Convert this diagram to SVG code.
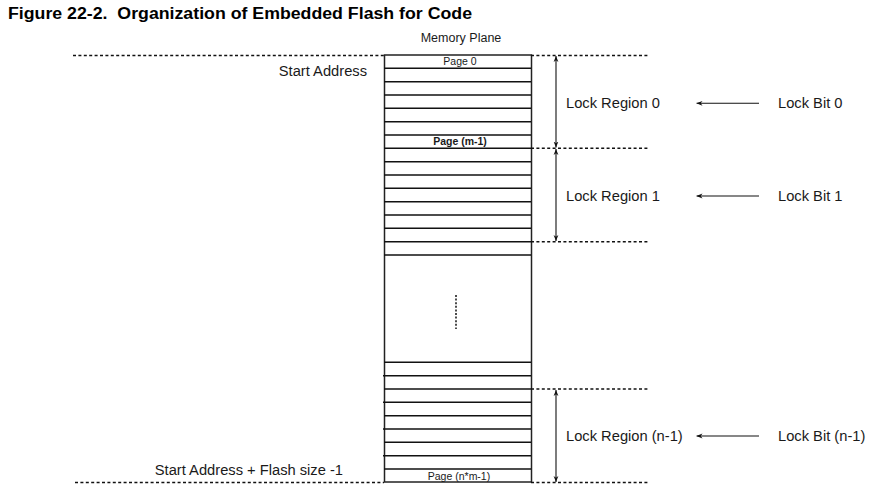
<svg xmlns="http://www.w3.org/2000/svg" width="884" height="500" viewBox="0 0 884 500">
<style>
text{font-family:"Liberation Sans",Arial,sans-serif;fill:#1a1a1a}
.t{font-size:14.7px}
.p{font-size:10.5px;text-anchor:middle}
.dot{stroke:#111;stroke-width:1.5;stroke-dasharray:3 2.4;fill:none}
.row{stroke:#111;stroke-width:1.4}
.ln{stroke:#111;stroke-width:1.1;fill:none}
</style>
<defs>
<marker id="ah" viewBox="0 0 10 10" refX="10" refY="5" markerWidth="6" markerHeight="6" orient="auto-start-reverse" markerUnits="userSpaceOnUse">
<path d="M0,1 L10,5 L0,9 L3,5 Z" fill="#111"/>
</marker>
</defs>
<rect width="884" height="500" fill="#fff"/>
<text x="8" y="19" style="font-size:17.4px;font-weight:bold;fill:#000" xml:space="preserve" textLength="464" lengthAdjust="spacingAndGlyphs">Figure 22-2.  Organization of Embedded Flash for Code</text>

<g id="memory-plane">
<text x="461" y="42" style="font-size:12.5px;text-anchor:middle">Memory Plane</text>
<rect x="384.5" y="55" width="147" height="427" fill="#fff" stroke="#222" stroke-width="1.5"/>
<g class="row">
<line x1="384" y1="68.3" x2="531" y2="68.3"/>
<line x1="384" y1="81.7" x2="531" y2="81.7"/>
<line x1="384" y1="95" x2="531" y2="95"/>
<line x1="384" y1="108.3" x2="531" y2="108.3"/>
<line x1="384" y1="121.7" x2="531" y2="121.7"/>
<line x1="384" y1="135" x2="531" y2="135"/>
<line x1="384" y1="148.3" x2="531" y2="148.3"/>
<line x1="384" y1="161.7" x2="531" y2="161.7"/>
<line x1="384" y1="175" x2="531" y2="175"/>
<line x1="384" y1="188.3" x2="531" y2="188.3"/>
<line x1="384" y1="201.7" x2="531" y2="201.7"/>
<line x1="384" y1="215" x2="531" y2="215"/>
<line x1="384" y1="228.3" x2="531" y2="228.3"/>
<line x1="384" y1="241.7" x2="531" y2="241.7"/>
<line x1="384" y1="255" x2="531" y2="255"/>
<line x1="384" y1="362.3" x2="531" y2="362.3"/>
<line x1="383" y1="375.7" x2="531" y2="375.7"/>
<line x1="384" y1="389" x2="531" y2="389"/>
<line x1="383" y1="402.3" x2="531" y2="402.3"/>
<line x1="384" y1="415.7" x2="531" y2="415.7"/>
<line x1="383" y1="429" x2="531" y2="429"/>
<line x1="384" y1="442.3" x2="531" y2="442.3"/>
<line x1="383" y1="455.7" x2="531" y2="455.7"/>
<line x1="384" y1="469" x2="531" y2="469"/>
</g>
<line x1="456" y1="295" x2="456" y2="329" stroke="#111" stroke-width="1.5" stroke-dasharray="2 1.6"/>
<text x="460" y="65" class="p">Page 0</text>
<text x="460" y="145" class="p" style="font-weight:bold">Page (m-1)</text>
<text x="459" y="480" class="p">Page (n*m-1)</text>
</g>

<g id="connectors">
<line class="dot" x1="73" y1="55.5" x2="384" y2="55.5"/>
<line class="dot" x1="531" y1="55.5" x2="648" y2="55.5"/>
<line class="dot" x1="531" y1="148.3" x2="648" y2="148.3"/>
<line class="dot" x1="531" y1="241.7" x2="648" y2="241.7"/>
<line class="dot" x1="531" y1="389" x2="648" y2="389"/>
<line class="dot" x1="75" y1="482.5" x2="384" y2="482.5"/>
<line class="dot" x1="531" y1="482.5" x2="648" y2="482.5"/>
<line class="ln" x1="556" y1="56" x2="556" y2="147.5" marker-start="url(#ah)" marker-end="url(#ah)"/>
<line class="ln" x1="556" y1="149" x2="556" y2="241" marker-start="url(#ah)" marker-end="url(#ah)"/>
<line class="ln" x1="556" y1="390" x2="556" y2="482" marker-start="url(#ah)" marker-end="url(#ah)"/>
<line class="ln" x1="759" y1="103.3" x2="696.5" y2="103.3" marker-end="url(#ah)"/>
<line class="ln" x1="759" y1="196" x2="696.5" y2="196" marker-end="url(#ah)"/>
<line class="ln" x1="759" y1="436" x2="696.5" y2="436" marker-end="url(#ah)"/>
</g>

<g id="start-address"><text x="367" y="76" class="t" style="text-anchor:end">Start Address</text></g>
<g id="end-address"><text x="343" y="475" class="t" style="text-anchor:end">Start Address + Flash size -1</text></g>

<g id="lock-region-0"><text x="566" y="108" class="t">Lock Region 0</text></g>
<g id="lock-region-1"><text x="566" y="201" class="t">Lock Region 1</text></g>
<g id="lock-region-n-1"><text x="566" y="441" class="t">Lock Region (n-1)</text></g>
<g id="lock-bit-0"><text x="778" y="108" class="t">Lock Bit 0</text></g>
<g id="lock-bit-1"><text x="778" y="201" class="t">Lock Bit 1</text></g>
<g id="lock-bit-n-1"><text x="778" y="441" class="t">Lock Bit (n-1)</text></g>
</svg>
